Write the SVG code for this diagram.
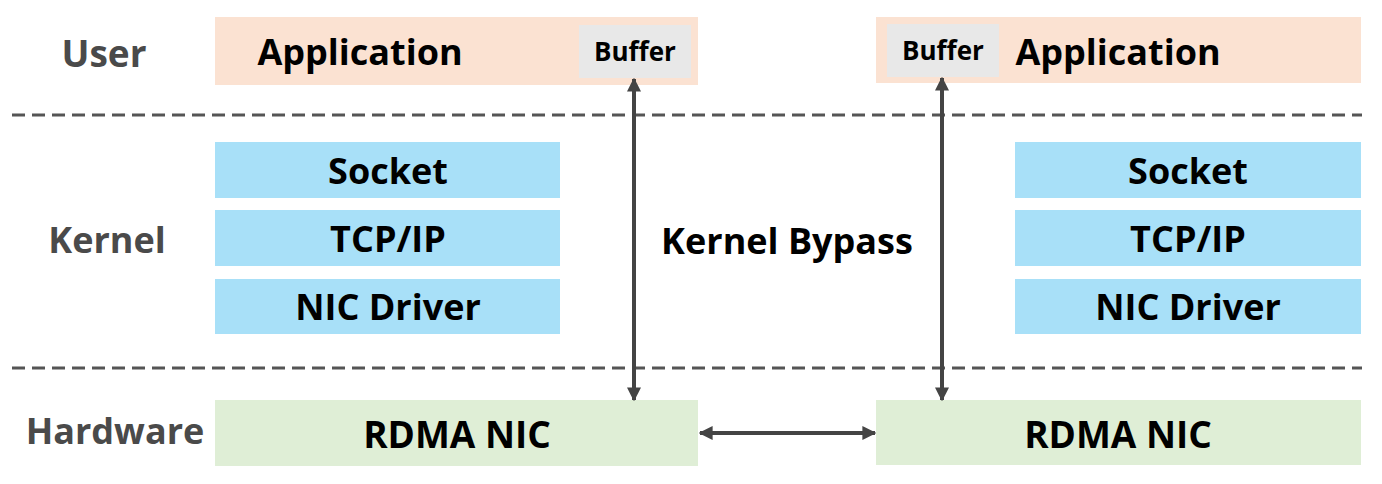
<svg xmlns="http://www.w3.org/2000/svg" width="1382" height="484" viewBox="0 0 1382 484">
<defs>
<style>
.app{fill:#fbe2d2}
.buf{fill:#e8e8e8}
.ker{fill:#a8e0f8}
.hw{fill:#dfeed6}
.t{font-family:"Open Sans","Liberation Sans",sans-serif;font-weight:bold;fill:#000;text-anchor:middle;dominant-baseline:central}
.big{font-size:36px}
.mid{font-size:36px}
.hwt{font-size:37px}
.sm{font-size:26px}
.lab{font-family:"Open Sans","Liberation Sans",sans-serif;font-weight:bold;fill:#4a4a4a;font-size:36px;text-anchor:middle;dominant-baseline:central}
.dash{stroke:#555;stroke-width:3;stroke-dasharray:13,7;fill:none}
.arr{stroke:#444;stroke-width:4;fill:none;marker-start:url(#ah);marker-end:url(#ah)}
</style>
<marker id="ah" viewBox="0 0 10 10" refX="9" refY="5" markerWidth="3.5" markerHeight="3.5" orient="auto-start-reverse" markerUnits="strokeWidth">
<path d="M0,0 L10,5 L0,10 Z" fill="#444"/>
</marker>
</defs>
<rect width="1382" height="484" fill="#fff"/>
<g id="separators">
<line class="dash" x1="12" y1="115" x2="1362" y2="115"/>
<line class="dash" x1="12" y1="368" x2="1362" y2="368"/>
</g>
<g id="layer-labels">
<text class="lab" x="104" y="52" style="font-size:37px">User</text>
<text class="lab" x="107" y="239">Kernel</text>
<text class="lab" x="115" y="430">Hardware</text>
</g>
<g id="app-left"><rect class="app" x="215" y="17" width="483" height="68"/><text class="t big" x="360" y="51">Application</text></g>
<g id="buffer-left"><rect class="buf" x="579" y="25" width="112" height="53"/><text class="t sm" x="635" y="51">Buffer</text></g>
<g id="app-right"><rect class="app" x="876" y="17" width="485" height="66"/><text class="t big" x="1118" y="51">Application</text></g>
<g id="buffer-right"><rect class="buf" x="887" y="24" width="112" height="53"/><text class="t sm" x="943" y="50">Buffer</text></g>
<g id="socket-left"><rect class="ker" x="215" y="142" width="345" height="56"/><text class="t mid" x="388" y="170">Socket</text></g>
<g id="tcpip-left"><rect class="ker" x="215" y="210" width="345" height="56"/><text class="t mid" x="388" y="238">TCP/IP</text></g>
<g id="nic-driver-left"><rect class="ker" x="215" y="279" width="345" height="55"/><text class="t mid" x="388" y="306">NIC Driver</text></g>
<g id="socket-right"><rect class="ker" x="1015" y="142" width="346" height="56"/><text class="t mid" x="1188" y="170">Socket</text></g>
<g id="tcpip-right"><rect class="ker" x="1015" y="210" width="346" height="56"/><text class="t mid" x="1188" y="238">TCP/IP</text></g>
<g id="nic-driver-right"><rect class="ker" x="1015" y="279" width="346" height="55"/><text class="t mid" x="1188" y="306">NIC Driver</text></g>
<g id="rdma-left"><rect class="hw" x="215" y="400" width="483" height="66"/><text class="t hwt" x="457" y="433">RDMA NIC</text></g>
<g id="rdma-right"><rect class="hw" x="876" y="400" width="485" height="65"/><text class="t hwt" x="1118" y="433">RDMA NIC</text></g>
<g id="kernel-bypass"><text class="t mid" x="787" y="240">Kernel Bypass</text></g>
<g id="connectors">
<line class="arr" x1="634" y1="79" x2="634" y2="400"/>
<line class="arr" x1="942" y1="78" x2="942" y2="400"/>
<line class="arr" x1="700" y1="433" x2="875" y2="433"/>
</g>
</svg>
